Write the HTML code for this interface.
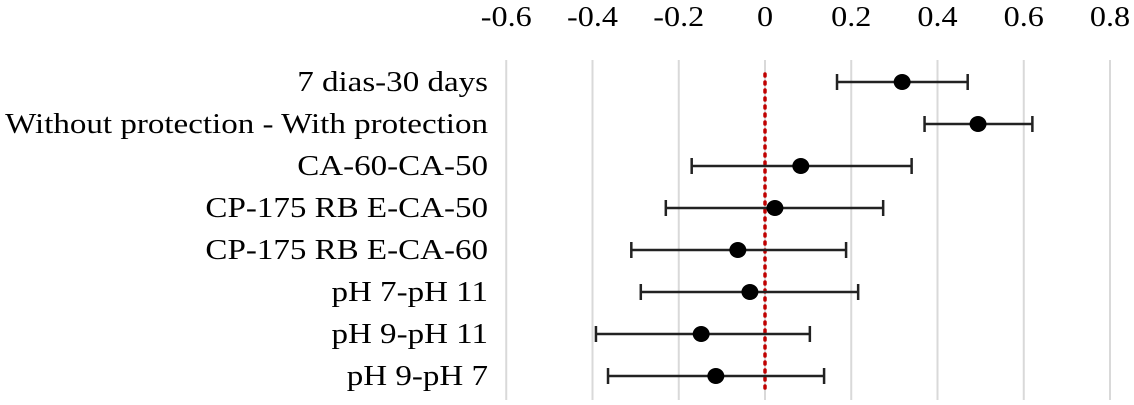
<!DOCTYPE html>
<html><head><meta charset="utf-8"><style>
body{margin:0;background:#fff}
svg text{font-family:"Liberation Serif",serif;font-size:28px;fill:#000}
</style></head><body>
<svg width="1134" height="400" id="c"></svg>
<script>
const categories=["7 dias-30 days","Without protection - With protection","CA-60-CA-50","CP-175 RB E-CA-50","CP-175 RB E-CA-60","pH 7-pH 11","pH 9-pH 11","pH 9-pH 7"];
const estimates=[0.318,0.494,0.083,0.023,-0.063,-0.035,-0.148,-0.114];
const lowers=[0.167,0.37,-0.17,-0.23,-0.31,-0.288,-0.392,-0.364];
const uppers=[0.47,0.62,0.34,0.274,0.188,0.216,0.104,0.137];
const ticks=[-0.6,-0.4,-0.2,0,0.2,0.4,0.6,0.8];
const tickLabels=["-0.6","-0.4","-0.2","0","0.2","0.4","0.6","0.8"];
const NS="http://www.w3.org/2000/svg";
const svg=document.getElementById('c');
const x=v=>765+v*431.25;
const y=i=>82+i*42;
function mk(t,a){const e=document.createElementNS(NS,t);for(const k in a)e.setAttribute(k,a[k]);svg.appendChild(e);return e;}
ticks.forEach((t,i)=>{
 const g=mk('line',{x1:x(t),x2:x(t),y1:60,y2:400,stroke:'#d9d9d9','stroke-width':2});
 
 
 const l=mk('text',{x:0,y:0,'text-anchor':'middle',transform:`translate(${x(t)},26) scale(1.15,1)`});
 l.textContent=tickLabels[i];
 
 
});
const z=mk('line',{x1:x(0),x2:x(0),y1:74,y2:388,stroke:'#c00000','stroke-width':3.5,'stroke-dasharray':'2,6','stroke-linecap':'round'});


categories.forEach((c,i)=>{
 const yy=y(i);
 const t=mk('text',{x:0,y:0,'text-anchor':'end',transform:`translate(488,${yy+9}) scale(1.18,1)`});
 t.textContent=c;
 
 
 const e=mk('path',{d:`M${x(lowers[i])} ${yy}H${x(uppers[i])}M${x(lowers[i])} ${yy-8}V${yy+8}M${x(uppers[i])} ${yy-8}V${yy+8}`,stroke:'#222','stroke-width':2.5,fill:'none'});
 
 
 const d=mk('ellipse',{cx:x(estimates[i]),cy:yy,rx:8.5,ry:8,fill:'#000'});
 
 
});
</script>
</body></html>
